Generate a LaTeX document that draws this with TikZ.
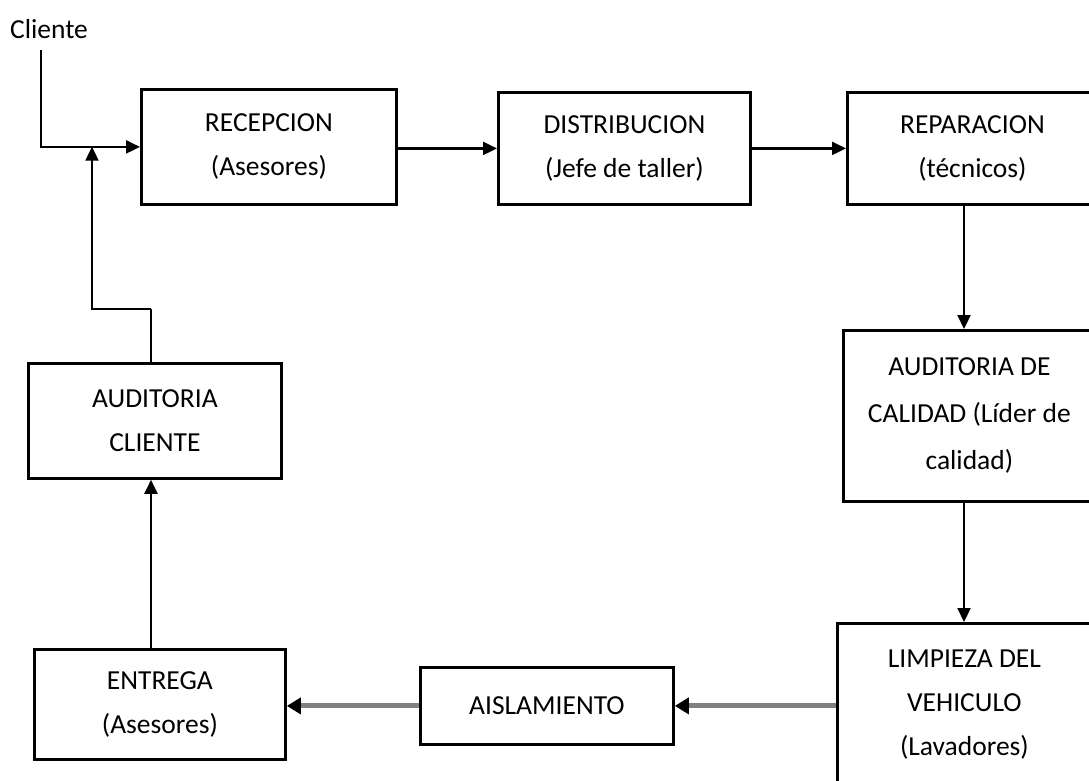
\documentclass[tikz,border=0pt]{standalone}
\usepackage{fontspec}
\setmainfont{Carlito}
\usetikzlibrary{arrows.meta}
\begin{document}
\begin{tikzpicture}[x=1pt,y=-1pt,
  stepbox/.style={draw=black, line width=2.8pt, fill=white, anchor=north west,
    align=center, inner sep=0pt, font=\fontsize{27.5}{44}\selectfont},
  flow/.style={draw=black, line width=2.2pt, -{Triangle[length=14pt,width=13pt]}},
  flowplain/.style={draw=black, line width=2.2pt},
  grayflow/.style={draw=black!50, line width=5pt,
    -{Triangle[length=14pt,width=16pt,color=black]}},
  lbl/.style={font=\fontsize{27.5}{30}\selectfont, inner sep=0pt}]
  \useasboundingbox (0,0) rectangle (1089,780);
  \clip (0,0) rectangle (1089,780);

  % process boxes
  \node[stepbox, minimum width=255pt, minimum height=115pt] (rec) at (140,88)
    {RECEPCION\\(Asesores)};
  \node[stepbox, minimum width=252pt, minimum height=112pt] (dist) at (497,91)
    {DISTRIBUCION\\(Jefe de taller)};
  \node[stepbox, minimum width=250pt, minimum height=112pt] (rep) at (846,91)
    {REPARACION\\(técnicos)};
  \node[stepbox, minimum width=252pt, minimum height=171pt,
        font=\fontsize{27.5}{47}\selectfont] (audcal) at (842,329)
    {AUDITORIA DE\\CALIDAD (Líder de\\calidad)};
  \node[stepbox, minimum width=254pt, minimum height=162pt] (limp) at (836,622)
    {LIMPIEZA DEL\\VEHICULO\\(Lavadores)};
  \node[stepbox, minimum width=253pt, minimum height=77pt] (ais) at (419,666)
    {AISLAMIENTO};
  \node[stepbox, minimum width=251pt, minimum height=110pt] (ent) at (33,648)
    {ENTREGA\\(Asesores)};
  \node[stepbox, minimum width=253pt, minimum height=115pt] (audcli) at (27,362)
    {AUDITORIA\\CLIENTE};

  % entry label
  \node[lbl] (cli) at (49,29) {Cliente};

  % routing points
  \coordinate (cstart) at (41,50);
  \coordinate (rcol) at (964,0);
  \coordinate (lcol) at (151,0);
  \coordinate (join) at (92,146.7);
  \coordinate (bend) at (151,309);

  % top row
  \draw[flow] (cstart) |- (rec.west);
  \draw[flow] (rec.east |- dist.west) -- (dist.west);
  \draw[flow] (dist.east) -- (rep.west);
  % right column
  \draw[flow] (rep.south -| rcol) -- (audcal.north -| rcol);
  \draw[flow] (audcal.south -| rcol) -- (limp.north -| rcol);
  % bottom row
  \draw[grayflow] (limp.west |- ais.east) -- (ais.east);
  \draw[grayflow] (ais.west) -- (ent.east |- ais.west);
  % back to reception
  \draw[flow] (ent.north -| lcol) -- (audcli.south -| lcol);
  \draw[flowplain] (audcli.north -| lcol) -- (bend);
  \draw[flow] (bend) -| (join);
\end{tikzpicture}
\end{document}
